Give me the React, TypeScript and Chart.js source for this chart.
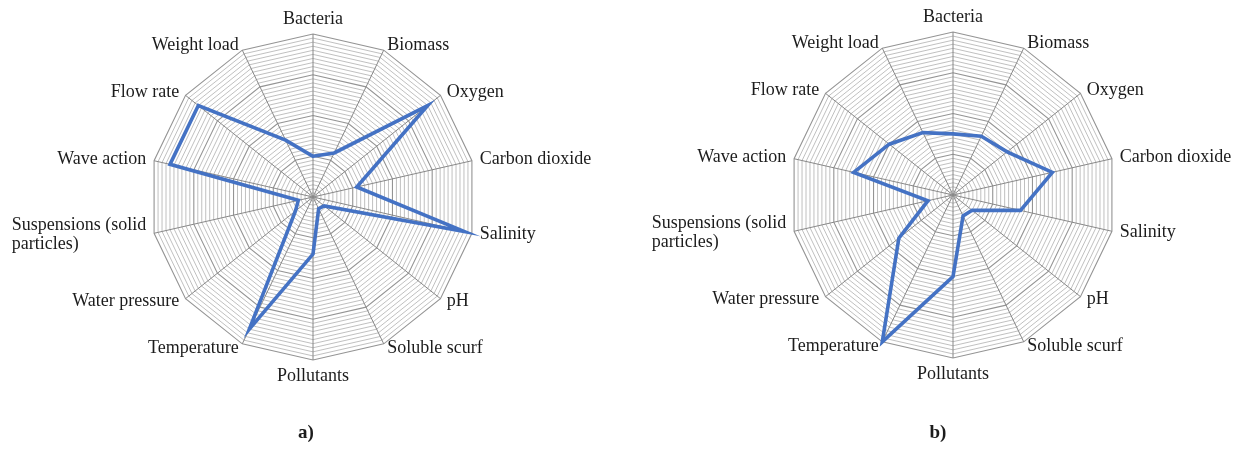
import React, { useEffect, useRef } from "react";
import { Chart, registerables } from "chart.js";

Chart.register(...registerables);

// Environmental factors around the radar, clockwise from the top
const factors: (string | string[])[] = [
  "Bacteria",
  "Biomass",
  "Oxygen",
  "Carbon dioxide",
  "Salinity",
  "pH",
  "Soluble scurf",
  "Pollutants",
  "Temperature",
  "Water pressure",
  ["Suspensions (solid", "particles)"],
  "Wave action",
  "Flow rate",
  "Weight load",
];

// Intensity of each factor, panel a) and panel b)
const intensityA = [10, 12, 36, 11, 38, 3.5, 3.2, 14, 36, 5.5, 3.7, 36, 36, 15.5];
const intensityB = [15, 16, 17, 25, 17, 6, 5.7, 20, 40, 17, 6.3, 25, 20, 17];

// Radial axis: fine rings every unit, stronger ring every ten
const axisMax = 40;
const ringStep = 1;
const majorRing = 10;

const LABEL_FONT = '18px "Liberation Serif", "Times New Roman", serif';

// Draws the factor names just outside the outer polygon
const factorLabels = {
  id: "factorLabels",
  afterDraw(chart: any) {
    const scale = chart.scales.r;
    const ctx: CanvasRenderingContext2D = chart.ctx;
    const labels = chart.data.labels as (string | string[])[];
    const R = scale.drawingArea;
    const lineH = 19;
    ctx.save();
    ctx.font = LABEL_FONT;
    ctx.fillStyle = "#1c1c1c";
    labels.forEach((lab, i) => {
      const a = scale.getIndexAngle(i);
      const s = Math.sin(a);
      const c = Math.cos(a);
      const v = scale.getPointPosition(i, R);
      const lines = Array.isArray(lab) ? lab : [lab];
      if (Math.abs(s) < 0.05) {
        ctx.textAlign = "center";
        ctx.textBaseline = "alphabetic";
        if (c > 0) {
          lines.forEach((t, k) => ctx.fillText(t, v.x, v.y - 10 - (lines.length - 1 - k) * lineH));
        } else {
          lines.forEach((t, k) => ctx.fillText(t, v.x, v.y + 21 + k * lineH));
        }
        return;
      }
      const x = v.x + 8 * s;
      const yMid = v.y - 5 * c;
      ctx.textBaseline = "middle";
      const widths = lines.map((t) => ctx.measureText(t).width);
      const blockW = Math.max(...widths);
      const left = s > 0 ? x : x - blockW;
      ctx.textAlign = "left";
      const top = yMid - ((lines.length - 1) * lineH) / 2;
      lines.forEach((t, k) => ctx.fillText(t, left, top + k * lineH));
    });
    ctx.restore();
  },
};

type PanelProps = {
  values: number[];
  left: number;
  pad: { left: number; right: number; top: number; bottom: number };
};

function RadarPanel({ values, left, pad }: PanelProps) {
  const ref = useRef<HTMLCanvasElement>(null);
  useEffect(() => {
    if (!ref.current) return;
    const chart = new Chart(ref.current, {
      type: "radar",
      data: {
        labels: factors,
        datasets: [
          {
            data: values,
            borderColor: "#4472C4",
            borderWidth: 3.6,
            pointRadius: 0,
            pointHoverRadius: 0,
            fill: false,
            tension: 0,
          },
        ],
      },
      options: {
        responsive: false,
        animation: false,
        layout: { padding: pad },
        plugins: { legend: { display: false }, tooltip: { enabled: false } },
        scales: {
          r: {
            min: 0,
            max: axisMax,
            ticks: { display: false, stepSize: ringStep },
            pointLabels: { display: false },
            angleLines: { color: "#888888", lineWidth: 1 },
            grid: {
              circular: false,
              color: (ctx: any) =>
                ctx.tick && ctx.tick.value % majorRing === 0 ? "#949494" : "#b9b9b9",
              lineWidth: (ctx: any) =>
                ctx.tick && ctx.tick.value % majorRing === 0 ? 1.1 : 0.9,
            },
          },
        },
      },
      plugins: [factorLabels],
    });
    return () => chart.destroy();
  }, []);
  return (
    <canvas
      ref={ref}
      width={618}
      height={475}
      style={{ position: "absolute", left, top: 0, width: 618, height: 475 }}
    />
  );
}

const captionStyle: React.CSSProperties = {
  position: "absolute",
  top: 420,
  width: 60,
  textAlign: "center",
  fontFamily: '"Liberation Serif", "Times New Roman", serif',
  fontWeight: "bold",
  fontSize: 19,
  color: "#1c1c1c",
  lineHeight: "24px",
};

export default function App() {
  return (
    <div
      style={{
        position: "absolute",
        left: 0,
        top: 0,
        width: 1236,
        height: 475,
        background: "#ffffff",
        overflow: "hidden",
      }}
    >
      <RadarPanel values={intensityA} left={0} pad={{ left: 150, right: 142, top: 34, bottom: 115 }} />
      <RadarPanel values={intensityB} left={618} pad={{ left: 172, right: 120, top: 32, bottom: 117 }} />
      <div style={{ ...captionStyle, left: 276 }}>a)</div>
      <div style={{ ...captionStyle, left: 908 }}>b)</div>
    </div>
  );
}
